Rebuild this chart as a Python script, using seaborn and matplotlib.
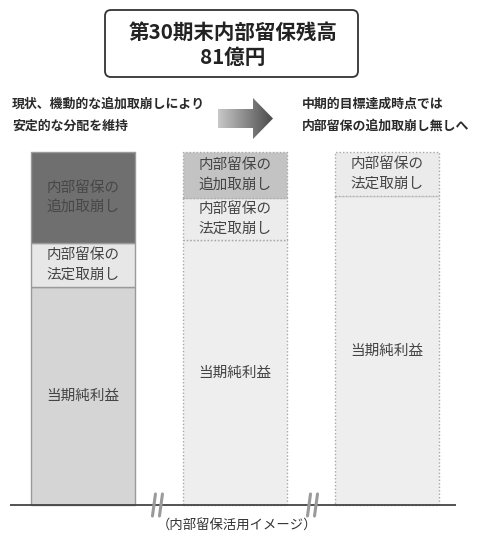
import matplotlib
matplotlib.use('Agg')
import matplotlib.pyplot as plt
import seaborn as sns
import numpy as np
import pandas as pd
from matplotlib.patches import FancyBboxPatch, Polygon
from matplotlib.colors import LinearSegmentedColormap

# values (relative heights)
periods = ['現状', '移行期', '中期的目標達成時点']
net_income = [218, 265, 309]
legal_reversal = [44, 42, 44]
extra_reversal = [91, 46, 0]

lbl_net = '当期純利益'
lbl_legal = '内部留保の\n法定取崩し'
lbl_extra = '内部留保の\n追加取崩し'

net_colors = ['#d5d5d5', '#eeeeee', '#eeeeee']
legal_colors = ['#e7e7e7', '#ececec', '#ebebeb']
extra_colors = ['#6f6f6f', '#c3c3c3', '#ebebeb']

sns.set_style('white')
plt.rcParams['font.family'] = ['Noto Sans CJK JP', 'DejaVu Sans']

fig = plt.figure(figsize=(4.81, 5.39), dpi=100)

# bar area: 1 data unit = 1 px vertically
ax = fig.add_axes([10/481, 0, 446/481, 399/539])
df = pd.DataFrame({'period': periods, 'net': net_income})
sns.barplot(data=df, x='period', y='net', hue='period', palette=net_colors,
            saturation=1, width=0.684, legend=False, ax=ax)

net = np.array(net_income)
legal = np.array(legal_reversal)
extra = np.array(extra_reversal)
xs = np.arange(len(periods))
ax.bar(xs, legal, bottom=net, width=0.684, color=legal_colors)
mask = extra > 0
ax.bar(xs[mask], extra[mask], bottom=(net + legal)[mask], width=0.684,
       color=np.array(extra_colors)[mask])

# edges: solid for current, dotted for the others
for p in ax.patches:
    cx = p.get_x() + p.get_width() / 2
    if abs(cx) < 0.3:
        p.set_edgecolor('#9a9a9a')
        p.set_linewidth(1.0)
    else:
        p.set_edgecolor('#a8a8a8')
        p.set_linewidth(1.0)
        p.set_linestyle((0, (1, 1.5)))

tkw = dict(ha='center', va='center', fontsize=10.5, linespacing=1.5)
for i in xs:
    ax.text(i, net[i] / 2, lbl_net, color='#444444', **tkw)
    ax.text(i, net[i] + legal[i] / 2, lbl_legal, color='#444444', **tkw)
    if extra[i] > 0:
        c = '#474747' if i == 0 else '#444444'
        ax.text(i, net[i] + legal[i] + extra[i] / 2, lbl_extra, color=c, **tkw)

ax.axhline(0, color='#444444', lw=1.3)
for xb in [0.49, 1.51]:
    for dx in [-3.5, 3.5]:
        x0 = xb + dx / 152
        ax.plot([x0 - 1.5/152, x0 + 1.5/152], [-11, 11], color='#9a9a9a',
                lw=2.2, solid_capstyle='round')

ax.set_xlim(-0.48, 2.454)
ax.set_ylim(-34, 365)
ax.axis('off')

# overlay in pixel coordinates for the annotations
ov = fig.add_axes([0, 0, 1, 1])
ov.axis('off')

box = FancyBboxPatch((105, 10), 253, 67, boxstyle='round,pad=0,rounding_size=6',
                     fc='white', ec='#333333', lw=1.3)
ov.add_patch(box)
ov.text(233, 32, '第30期末内部留保残高', ha='center', va='center',
        fontsize=14.8, fontweight='bold', color='#222222')
ov.text(233, 57, '81億円', ha='center', va='center',
        fontsize=14.8, fontweight='bold', color='#222222')

hkw = dict(ha='left', va='center', fontsize=9.3, fontweight='bold', color='#2a2a2a')
ov.text(12, 104, '現状、機動的な追加取崩しにより', **hkw)
ov.text(12, 126, '安定的な分配を維持', **hkw)
ov.text(302, 104, '中期的目標達成時点では', **hkw)
ov.text(302, 126, '内部留保の追加取崩し無しへ', **hkw)

# gradient arrow
arrow = Polygon([(218, 109), (253, 109), (253, 98), (273, 118.5),
                 (253, 139), (253, 128), (218, 128)], closed=True,
                fc='none', ec='none')
ov.add_patch(arrow)
cmap = LinearSegmentedColormap.from_list('g', ['#c8c8c8', '#8a8a8a', '#4a4a4a'])
grad = np.linspace(0, 1, 200).reshape(1, -1)
im = ov.imshow(grad, extent=[218, 273, 139, 98], cmap=cmap, aspect='auto')
im.set_clip_path(arrow)

ov.text(237, 525, '（内部留保活用イメージ）', ha='center', va='center',
        fontsize=9.6, color='#333333')

ov.set_xlim(0, 481)
ov.set_ylim(539, 0)

plt.savefig('out.png', dpi=100)
plt.close('all')
